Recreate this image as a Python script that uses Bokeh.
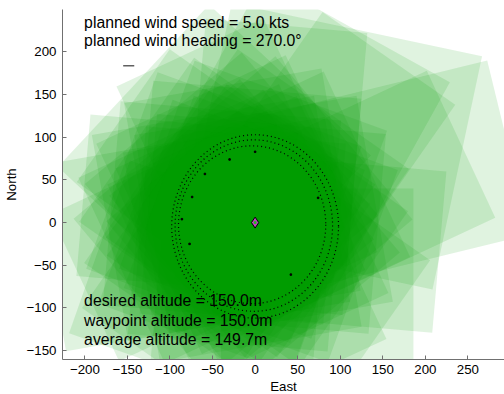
from bokeh.plotting import figure
from bokeh.models import Range1d, FixedTicker, ColumnDataSource, Title
from bokeh.embed import file_html
from bokeh.resources import INLINE
from bokeh.core.properties import value

# camera footprints: centre (east, north), length along heading, width across, heading (deg)
# outer footprints (7), mid footprints (12), inner footprints (24)
fp_x = [-47.8, 90.5, 49, 117.9, 73, -58.8, -98.5,
        106, 74, 25, -22.7, -56.6, -79.7, -84.5, -56.6, -19.4, 19.4, 54.8, 86.9,
        10, 9, 6.7, 2.7, -2.5, -8.5, -15, -21.5, -27.5, -32.7, -36.7, -39,
        -40, -39, -36.7, -32.7, -27.5, -21.5, -15, -8.5, -2.5, 2.7, 6.7, 9]
fp_y = [72, 89.5, 98.7, 44.2, -85, -72, -17.4,
        28.5, 74, 94, 84.5, 56.6, 21.4, -22.7, -56.6, -72.5, -72.5, -54.8, -23.3,
        5, 11.5, 17.5, 22.7, 26.7, 29, 30, 29, 26.7, 22.7, 17.5, 11.5,
        5, -1.5, -7.5, -12.7, -16.7, -19, -20, -19, -16.7, -12.7, -7.5, -1.5]
fp_len = [260, 280, 290, 370, 226, 263, 290,
          300, 290, 275, 255, 240, 245, 255, 240, 230, 230, 235, 260,
          265, 270, 255, 270, 260, 255, 265, 255, 250, 260, 255, 260,
          265, 260, 255, 250, 255, 245, 250, 255, 250, 260, 255, 270]
fp_wid = [260, 300, 250, 210, 250, 215, 220,
          190, 190, 190, 190, 190, 190, 190, 190, 190, 190, 190, 190,
          245, 240, 250, 245, 240, 245, 235, 245, 240, 235, 245, 240,
          245, 240, 245, 235, 240, 235, 240, 245, 240, 245, 240, 235]
fp_ang = [137, 78, 61, 13.7, 0, -19.4, 190,
          25, 55, 85, 115, 145, 175, 205, 235, 265, 295, 325, 355,
          10, 25, 40, 55, 70, 85, 100, 115, 130, 145, 160, 175,
          190, 205, 220, 235, 250, 265, 280, 295, 310, 325, 340, 355]

# flown loops (centre east, centre north, east extent, north extent)
loop_x = [0, -1.5, -3.5]
loop_y = [-4.5, -3.5, -2.5]
loop_w = [196, 185, 173]
loop_h = [215, 201, 185]

# stray track points
stray_x = [-30, -59, -74, -86, -77, 42, 74, 0]
stray_y = [74, 57, 30, 4, -25, -61, 29, 83]

# wind arrow
wind_x = [-155, -142]
wind_y = [184, 184]

x_ticks = [-200, -150, -100, -50, 0, 50, 100, 150, 200, 250]
y_ticks = [-150, -100, -50, 0, 50, 100, 150, 200]

top_lines = ["planned wind speed = 5.0 kts", "planned wind heading = 270.0\u00b0"]
top_y = [234.0, 212.9]
bottom_lines = ["desired altitude = 150.0m", "waypoint altitude = 150.0m", "average altitude = 149.7m"]
bottom_y = [-91.9, -114.2, -136.5]
text_x = -200.9

FONT = "Liberation Sans"

p = figure(width=504, height=394, output_backend="svg", toolbar_location=None,
           x_range=Range1d(-226.3, 293), y_range=Range1d(-160.5, 249.8),
           min_border_left=61, min_border_top=9, min_border_right=0, min_border_bottom=35)
p.outline_line_color = None
p.grid.visible = False
p.background_fill_color = "white"

src = ColumnDataSource(dict(x=fp_x, y=fp_y, w=fp_len, h=fp_wid, a=fp_ang))
p.rect(x="x", y="y", width="w", height="h", angle="a", angle_units="deg", source=src,
       fill_color="#009900", fill_alpha=0.12, line_color=None)

p.ellipse(x=loop_x, y=loop_y, width=loop_w, height=loop_h, fill_color=None,
          line_color="black", line_width=1.2, line_dash="1 3")
p.scatter(stray_x, stray_y, marker="square", size=1.5, color="black")

p.scatter([0], [0], marker="diamond", size=11, fill_color="#c040c0", line_color="black", line_width=1)
p.scatter([0], [0], marker="circle", size=3, fill_color="#20c020", line_color=None)

p.line(wind_x, wind_y, line_color="#606060", line_width=1.5)

p.text(x=[text_x] * 2, y=top_y, text=top_lines, text_font=value(FONT), text_font_size="15.8px",
       text_color="black", text_baseline="alphabetic", text_align="left")
p.text(x=[text_x] * 3, y=bottom_y, text=bottom_lines, text_font=value(FONT), text_font_size="15.8px",
       text_color="black", text_baseline="alphabetic", text_align="left")

for ax in (p.xaxis[0], p.yaxis[0]):
    ax.axis_line_color = "#707070"
    ax.major_tick_line_color = "#707070"
    ax.major_tick_in = 4
    ax.major_tick_out = 0
    ax.minor_tick_line_color = None
    ax.major_label_text_font = FONT
    ax.major_label_text_font_size = "13.3px"
    ax.major_label_text_color = "black"
    ax.axis_label_text_font = FONT
    ax.axis_label_text_font_size = "13.3px"
    ax.axis_label_text_font_style = "normal"
    ax.axis_label_text_color = "black"

p.xaxis.ticker = FixedTicker(ticks=x_ticks)
p.yaxis.ticker = FixedTicker(ticks=y_ticks)
p.xaxis.major_label_standoff = 5
p.yaxis.major_label_standoff = 6
p.yaxis.axis_label = "North"
p.yaxis.axis_label_standoff = 5

p.add_layout(Title(text="East", align="center", offset=-28, standoff=0, text_font=FONT,
                   text_font_size="13.3px", text_font_style="normal", text_color="black"), "below")

open("out.html", "w").write(file_html(p, INLINE))
